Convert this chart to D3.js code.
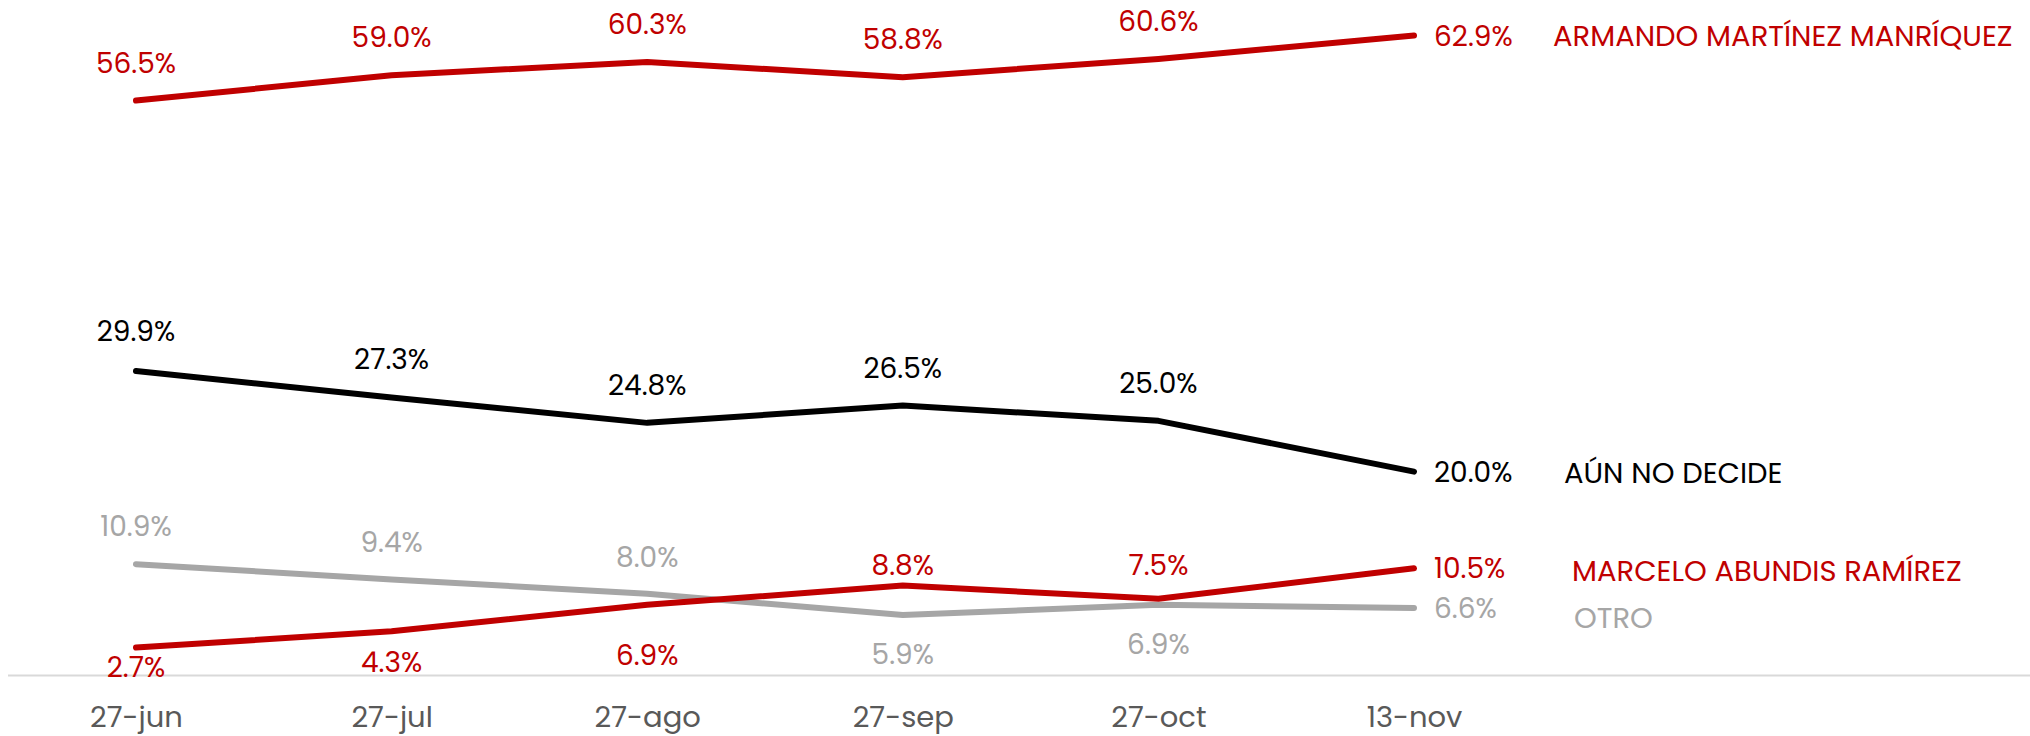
<!DOCTYPE html>
<html>
<head>
<meta charset="utf-8">
<script src="https://cdn.jsdelivr.net/npm/d3@7"></script>
<style>
  html, body { margin: 0; padding: 0; background: #fff; }
  svg { display: block; font-family: Poppins, Inter, "Noto Sans", sans-serif; }
  svg text { font-family: Poppins, Inter, "Noto Sans", sans-serif; }
</style>
</head>
<body>
<div id="app"></div>
<script>
// data
const dates = ["27-jun", "27-jul", "27-ago", "27-sep", "27-oct", "13-nov"];
const armando = [56.5, 59.0, 60.3, 58.8, 60.6, 62.9];
const aunNoDecide = [29.9, 27.3, 24.8, 26.5, 25.0, 20.0];
const marcelo = [2.7, 4.3, 6.9, 8.8, 7.5, 10.5];
const otro = [10.9, 9.4, 8.0, 5.9, 6.9, 6.6];
const seriesNames = [
  "ARMANDO MARTÍNEZ MANRÍQUEZ",
  "AÚN NO DECIDE",
  "MARCELO ABUNDIS RAMÍREZ",
  "OTRO"
];

const w = 2030;
const h = 736;

const series = [
  { name: seriesNames[3], values: otro, color: "#a6a6a6" },
  { name: seriesNames[2], values: marcelo, color: "#c00000" },
  { name: seriesNames[1], values: aunNoDecide, color: "#000000" },
  { name: seriesNames[0], values: armando, color: "#c00000" }
];

// label placement (baseline offset from point, px) - set by hand like the original
const labelDy = {
  [seriesNames[0]]: [-28, -28, -28, -28, -28],
  [seriesNames[1]]: [-30, -28, -28, -28, -28],
  [seriesNames[2]]: [29, 41, 60, -11, -24],
  [seriesNames[3]]: [-28, -27, -27, 49, 49]
};
const nameX = {
  [seriesNames[0]]: 1553,
  [seriesNames[1]]: 1564,
  [seriesNames[2]]: 1572,
  [seriesNames[3]]: 1574
};
const nameDy = {
  [seriesNames[0]]: 10,
  [seriesNames[1]]: 11,
  [seriesNames[2]]: 13,
  [seriesNames[3]]: 20
};

const svg = d3
  .select("#app")
  .append("svg")
  .attr("width", w)
  .attr("height", h);

const x = d3.scalePoint().domain(dates).range([136, 1414]);
const y = d3.scaleLinear().domain([0, 66]).range([675, 4]);

// baseline
svg
  .append("line")
  .attr("x1", 8)
  .attr("x2", w)
  .attr("y1", y(0) + 0.5)
  .attr("y2", y(0) + 0.5)
  .attr("stroke", "#d9d9d9")
  .attr("stroke-width", 2);

// x axis labels
const xAxis = d3.axisBottom(x).tickSize(0);
const gx = svg
  .append("g")
  .attr("transform", `translate(0,${y(0)})`)
  .call(xAxis)
  .attr("font-family", null)
  .attr("font-size", null);
gx.select(".domain").remove();
gx.selectAll("text")
  .attr("y", 52)
  .attr("dy", 0)
  .attr("fill", "#595959")
  .style("font-size", "29px");

const line = d3
  .line()
  .x((d, i) => x(dates[i]))
  .y((d) => y(d));

series.forEach((s) => {
  const g = svg.append("g");

  g.append("path")
    .datum(s.values)
    .attr("d", line)
    .attr("fill", "none")
    .attr("stroke", s.color)
    .attr("stroke-width", 6)
    .attr("stroke-linecap", "round")
    .attr("stroke-linejoin", "round");

  // value labels
  g.selectAll("text.val")
    .data(s.values)
    .enter()
    .append("text")
    .attr("class", "val")
    .attr("x", (d, i) => (i < dates.length - 1 ? x(dates[i]) : x(dates[i]) + 20))
    .attr("y", (d, i) =>
      i < dates.length - 1 ? y(d) + labelDy[s.name][i] : y(d) + 10
    )
    .attr("text-anchor", (d, i) => (i < dates.length - 1 ? "middle" : "start"))
    .attr("fill", s.color)
    .style("font-size", "28px")
    .text((d) => d.toFixed(1) + "%");

  // series name
  const last = s.values[s.values.length - 1];
  g.append("text")
    .attr("x", nameX[s.name])
    .attr("y", y(last) + nameDy[s.name])
    .attr("fill", s.color)
    .style("font-size", "29px")
    .text(s.name);
});
</script>
</body>
</html>
